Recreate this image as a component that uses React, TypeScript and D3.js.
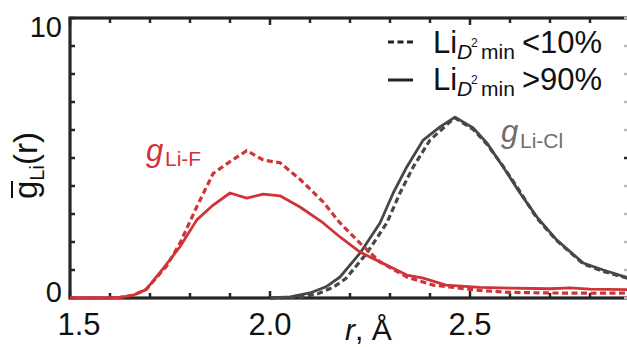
import React from 'react';
import * as d3 from 'd3';

// r values (Å) and g(r) values
const liF90R = [1.5, 1.55, 1.6, 1.625, 1.658, 1.69, 1.73, 1.775, 1.817, 1.858, 1.9, 1.942, 1.983, 2.025, 2.075, 2.133, 2.175, 2.225, 2.275, 2.342, 2.383, 2.44, 2.525, 2.6, 2.7, 2.75, 2.8, 2.9];
const liF90G = [0, 0, 0, 0.02, 0.1, 0.3, 1.0, 1.83, 2.79, 3.32, 3.75, 3.57, 3.71, 3.65, 3.25, 2.68, 2.18, 1.64, 1.29, 0.82, 0.71, 0.46, 0.38, 0.35, 0.33, 0.36, 0.32, 0.3];

const liF10R = [1.5, 1.55, 1.6, 1.625, 1.658, 1.69, 1.742, 1.775, 1.817, 1.858, 1.9, 1.942, 1.983, 2.025, 2.075, 2.133, 2.175, 2.225, 2.275, 2.342, 2.408, 2.525, 2.6, 2.7, 2.8, 2.9];
const liF10G = [0, 0, 0, 0.02, 0.1, 0.3, 1.15, 1.96, 3.26, 4.45, 4.87, 5.26, 4.93, 4.83, 4.24, 3.43, 2.68, 1.96, 1.29, 0.75, 0.46, 0.27, 0.2, 0.18, 0.17, 0.18];

const liCl90R = [2.0, 2.05, 2.1, 2.14, 2.175, 2.225, 2.275, 2.308, 2.342, 2.383, 2.425, 2.4625, 2.508, 2.542, 2.583, 2.625, 2.667, 2.717, 2.783, 2.833, 2.9];
const liCl90G = [0, 0.04, 0.18, 0.4, 0.75, 1.6, 2.68, 3.75, 4.68, 5.64, 6.11, 6.46, 6.07, 5.54, 4.68, 3.75, 2.9, 2.07, 1.25, 1.0, 0.7];

const liCl10R = [2.0, 2.07, 2.12, 2.16, 2.19, 2.242, 2.292, 2.325, 2.358, 2.4, 2.45, 2.4625, 2.508, 2.542, 2.583, 2.625, 2.667, 2.717, 2.783, 2.833, 2.9];
const liCl10G = [0, 0.02, 0.15, 0.4, 0.7, 1.6, 2.68, 3.75, 4.68, 5.64, 6.29, 6.43, 6.02, 5.5, 4.7, 3.8, 2.85, 2.05, 1.22, 0.95, 0.68];

const xTickLabels = ['1.5', '2.0', '2.5'];
const yTickLabels = ['0', '10'];

const RED = '#cf3438';
const GRAY = '#474747';
const AXIS = '#262626';
const FONT = '"Liberation Sans", Arial, sans-serif';

export default function App() {
  const width = 627;
  const height = 347;
  const left = 70, right = 630, top = 18, bottom = 298;

  const x = d3.scaleLinear().domain([1.5, 2.9]).range([left, right]);
  const y = d3.scaleLinear().domain([0, 10]).range([bottom, top]);

  const line = (rs: number[], gs: number[]) =>
    d3.line<number>()
      .x((d, i) => x(rs[i]))
      .y((d) => y(d))(gs) || '';

  const minorX = d3.range(1.5, 2.9001, 0.1);
  const minorY = d3.range(0, 10.001, 1);

  return (
    <svg width={width} height={height} style={{ position: 'absolute', left: 0, top: 0, background: '#fff' }}
      fontFamily={FONT}>
      {/* frame */}
      <rect x={left} y={top} width={right - left} height={bottom - top} fill="none" stroke={AXIS} strokeWidth={3.2} />
      {/* bottom / top ticks */}
      {minorX.map((v, i) => {
        const major = Math.abs((v * 10) % 5) < 0.01 || Math.abs((v * 10) % 5 - 5) < 0.01;
        const len = major ? 7 : 5;
        return (
          <g key={'xt' + i}>
            <line x1={x(v)} x2={x(v)} y1={bottom} y2={bottom - len} stroke={AXIS} strokeWidth={2.5} />
            <line x1={x(v)} x2={x(v)} y1={top} y2={top + len} stroke={AXIS} strokeWidth={2.5} />
          </g>
        );
      })}
      {/* left / right ticks */}
      {minorY.map((v, i) => (
        <g key={'yt' + i}>
          <line x1={left} x2={left + 5} y1={y(v)} y2={y(v)} stroke={AXIS} strokeWidth={2.5} />
          <line x1={width} x2={width - 3} y1={y(v)} y2={y(v)} stroke={v === 5 ? AXIS : '#bbbbbb'} strokeWidth={2.5} />
        </g>
      ))}

      {/* curves */}
      <path d={line(liCl10R, liCl10G)} fill="none" stroke={GRAY} strokeWidth={3.2} strokeDasharray="6,3.5" />
      <path d={line(liCl90R, liCl90G)} fill="none" stroke={GRAY} strokeWidth={2.8} strokeLinejoin="round" />
      <path d={line(liF10R, liF10G)} fill="none" stroke={RED} strokeWidth={3.2} strokeDasharray="6,3.5" />
      <path d={line(liF90R, liF90G)} fill="none" stroke={RED} strokeWidth={2.8} strokeLinejoin="round" />

      {/* tick labels */}
      {xTickLabels.map((t, i) => (
        <text key={'xl' + i} x={x(+t) + (i === 0 ? 9 : 0)} y={335} fontSize={31} textAnchor="middle" fill="#111">{t}</text>
      ))}
      {yTickLabels.map((t, i) => (
        <text key={'yl' + i} x={62} y={y(+t) + (i === 0 ? 4 : 19)} fontSize={29} textAnchor="end" fill="#111">{t}</text>
      ))}

      {/* axis titles */}
      <text x={345} y={340} fontSize={30} fill="#111">
        <tspan fontStyle="italic">r</tspan>, Å
      </text>
      <g transform="translate(37,199) rotate(-90)">
        <text x={0} y={0} fontSize={33} fill="#111">
          <tspan>g</tspan>
          <tspan fontSize={20} dy={7}>Li</tspan>
          <tspan dy={-7}>(r)</tspan>
        </text>
        <line x1={1} x2={18} y1={-25} y2={-25} stroke="#111" strokeWidth={2} />
      </g>

      {/* curve labels */}
      <text x={146} y={161} fontSize={31} fill={RED}>
        <tspan fontStyle="italic">g</tspan>
        <tspan x={165} y={166} fontSize={21}>Li-F</tspan>
      </text>
      <text x={501} y={142} fontSize={31} fill="#6e6e6e">
        <tspan fontStyle="italic">g</tspan>
        <tspan x={520} y={148} fontSize={21}>Li-Cl</tspan>
      </text>

      {/* legend */}
      <line x1={388} x2={413} y1={42} y2={42} stroke="#222" strokeWidth={3} strokeDasharray="6,3.5" />
      <line x1={388} x2={413} y1={80} y2={80} stroke="#222" strokeWidth={3} />
      {[
        { y0: 53, label: '<10%' },
        { y0: 90, label: '>90%' },
      ].map((r, i) => (
        <text key={'lg' + i} fontSize={31} fill="#111">
          <tspan x={433} y={r.y0}>Li</tspan>
          <tspan x={457} y={r.y0 + 6} fontSize={21} fontStyle="italic">D</tspan>
          <tspan x={471} y={r.y0 - 6} fontSize={12}>2</tspan>
          <tspan x={481} y={r.y0 + 6} fontSize={21}>min</tspan>
          <tspan x={522} y={r.y0}>{r.label}</tspan>
        </text>
      ))}
    </svg>
  );
}
